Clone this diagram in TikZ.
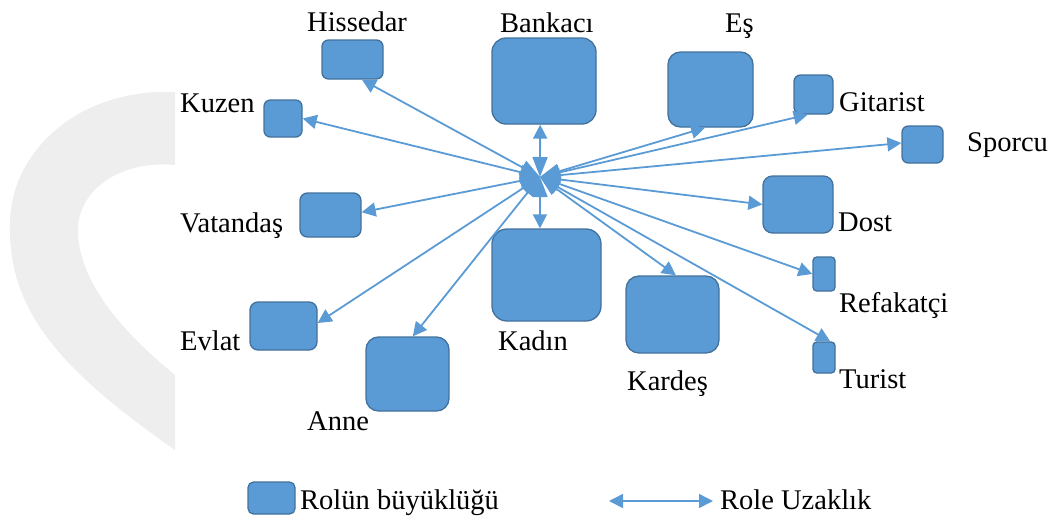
\documentclass[tikz,border=0pt]{standalone}
\usepackage{fontspec}
\setmainfont{Liberation Serif}
\usetikzlibrary{arrows.meta}
\definecolor{boxblue}{HTML}{5B9BD5}
\definecolor{boxedge}{HTML}{41719C}
\definecolor{heartgray}{HTML}{EEEEEE}
\tikzset{
  rolebox/.style={draw=boxedge, fill=boxblue, line width=1.3pt, inner sep=0pt, rounded corners=#1},
  lbl/.style={inner sep=0pt, anchor=base west, font=\fontsize{28.5}{30}\selectfont},
  rel/.style={draw=boxblue, line width=1.8pt, {Triangle[length=14pt,width=14pt]}-{Triangle[length=14pt,width=14pt]}},
  hubrel/.style={draw=boxblue, line width=1.8pt, {Triangle[length=20pt,width=15pt]}-{Triangle[length=14pt,width=14pt]}}
}
\begin{document}
\begin{tikzpicture}[x=1pt,y=-1pt]
\useasboundingbox (0,0) rectangle (1053,520);
% background half heart
\fill[heartgray] (175,92) .. controls (80,88) and (10,150) .. (10,225)
  .. controls (8,310) and (60,370) .. (175,450) -- (175,375)
  .. controls (120,330) and (78,280) .. (78,230)
  .. controls (78,190) and (120,160) .. (175,165) -- cycle;
% boxes
\node[rolebox=6.5pt, minimum width=61pt, minimum height=39pt] (hiss) at (352.5,59.5) {};
\node[rolebox=14pt, minimum width=104pt, minimum height=86pt] (bank) at (544,81) {};
\node[rolebox=12.5pt, minimum width=85pt, minimum height=75pt] (es) at (710.5,89.5) {};
\node[rolebox=6.5pt, minimum width=39pt, minimum height=39pt] (gitar) at (813.5,94.5) {};
\node[rolebox=6.3pt, minimum width=41pt, minimum height=37pt] (spor) at (922.5,144.5) {};
\node[rolebox=6.3pt, minimum width=38pt, minimum height=37pt] (kuzen) at (283,118.5) {};
\node[rolebox=7.5pt, minimum width=61pt, minimum height=44pt] (vatan) at (330.5,215) {};
\node[rolebox=9.5pt, minimum width=70pt, minimum height=57pt] (dost) at (798,204.5) {};
\node[rolebox=3.7pt, minimum width=22pt, minimum height=34pt] (refak) at (824,274) {};
\node[rolebox=3.7pt, minimum width=22pt, minimum height=31pt] (turist) at (824,357.5) {};
\node[rolebox=15pt, minimum width=109pt, minimum height=92pt] (kadin) at (546.5,275) {};
\node[rolebox=13pt, minimum width=93pt, minimum height=77pt] (kardes) at (672.5,314.5) {};
\node[rolebox=12.5pt, minimum width=83pt, minimum height=74pt] (anne) at (407.5,374) {};
\node[rolebox=8pt, minimum width=67pt, minimum height=48pt] (evlat) at (283.5,326) {};
% labels
\node[lbl] (lhiss) at (307,31) {Hissedar};
\node[lbl] (lbank) at (500,32) {Bankacı};
\node[lbl] (les) at (725,32) {Eş};
\node[lbl] (lkuzen) at (180,112) {Kuzen};
\node[lbl] (lvatan) at (180,232) {Vatandaş};
\node[lbl] (levlat) at (180,350) {Evlat};
\node[lbl] (lanne) at (307,430) {Anne};
\node[lbl] (lkadin) at (498,350) {Kadın};
\node[lbl] (lkardes) at (627,390) {Kardeş};
\node[lbl] (lgitar) at (839,111) {Gitarist};
\node[lbl] (lspor) at (967,151) {Sporcu};
\node[lbl] (ldost) at (838,231) {Dost};
\node[lbl] (lrefak) at (839,312) {Refakatçi};
\node[lbl] (lturist) at (839,388) {Turist};
% hub and connectors
\coordinate (hub) at (540,177);
\draw[hubrel] (hub) -- (hiss.-65);
\draw[hubrel] (hub) -- (bank.-95);
\draw[hubrel] (hub) -- (es.-98);
\draw[hubrel] (hub) -- (gitar.-106);
\draw[hubrel] (hub) -- (spor.176);
\draw[hubrel] (hub) -- (kuzen.east);
\draw[hubrel] (hub) -- (vatan.5);
\draw[hubrel] (hub) -- (dost.west);
\draw[hubrel] (hub) -- (refak.west);
\draw[hubrel] (hub) -- (turist.69);
\draw[hubrel] (hub) -- (kadin.98);
\draw[hubrel] (hub) -- (kardes.85);
\draw[hubrel] (hub) -- (anne.82);
\draw[hubrel] (hub) -- (evlat.5);
% legend
\node[rolebox=5.5pt, minimum width=47pt, minimum height=32pt] (legbox) at (271.5,498) {};
\node[lbl] (leglbl) at (300,509) {Rolün büyüklüğü};
\coordinate (legA) at (609,501);
\coordinate (legB) at (713,501);
\draw[rel, line width=1.5pt] (legA) -- (legB);
\node[lbl] (legrel) at (720,509) {Role Uzaklık};
\end{tikzpicture}
\end{document}
